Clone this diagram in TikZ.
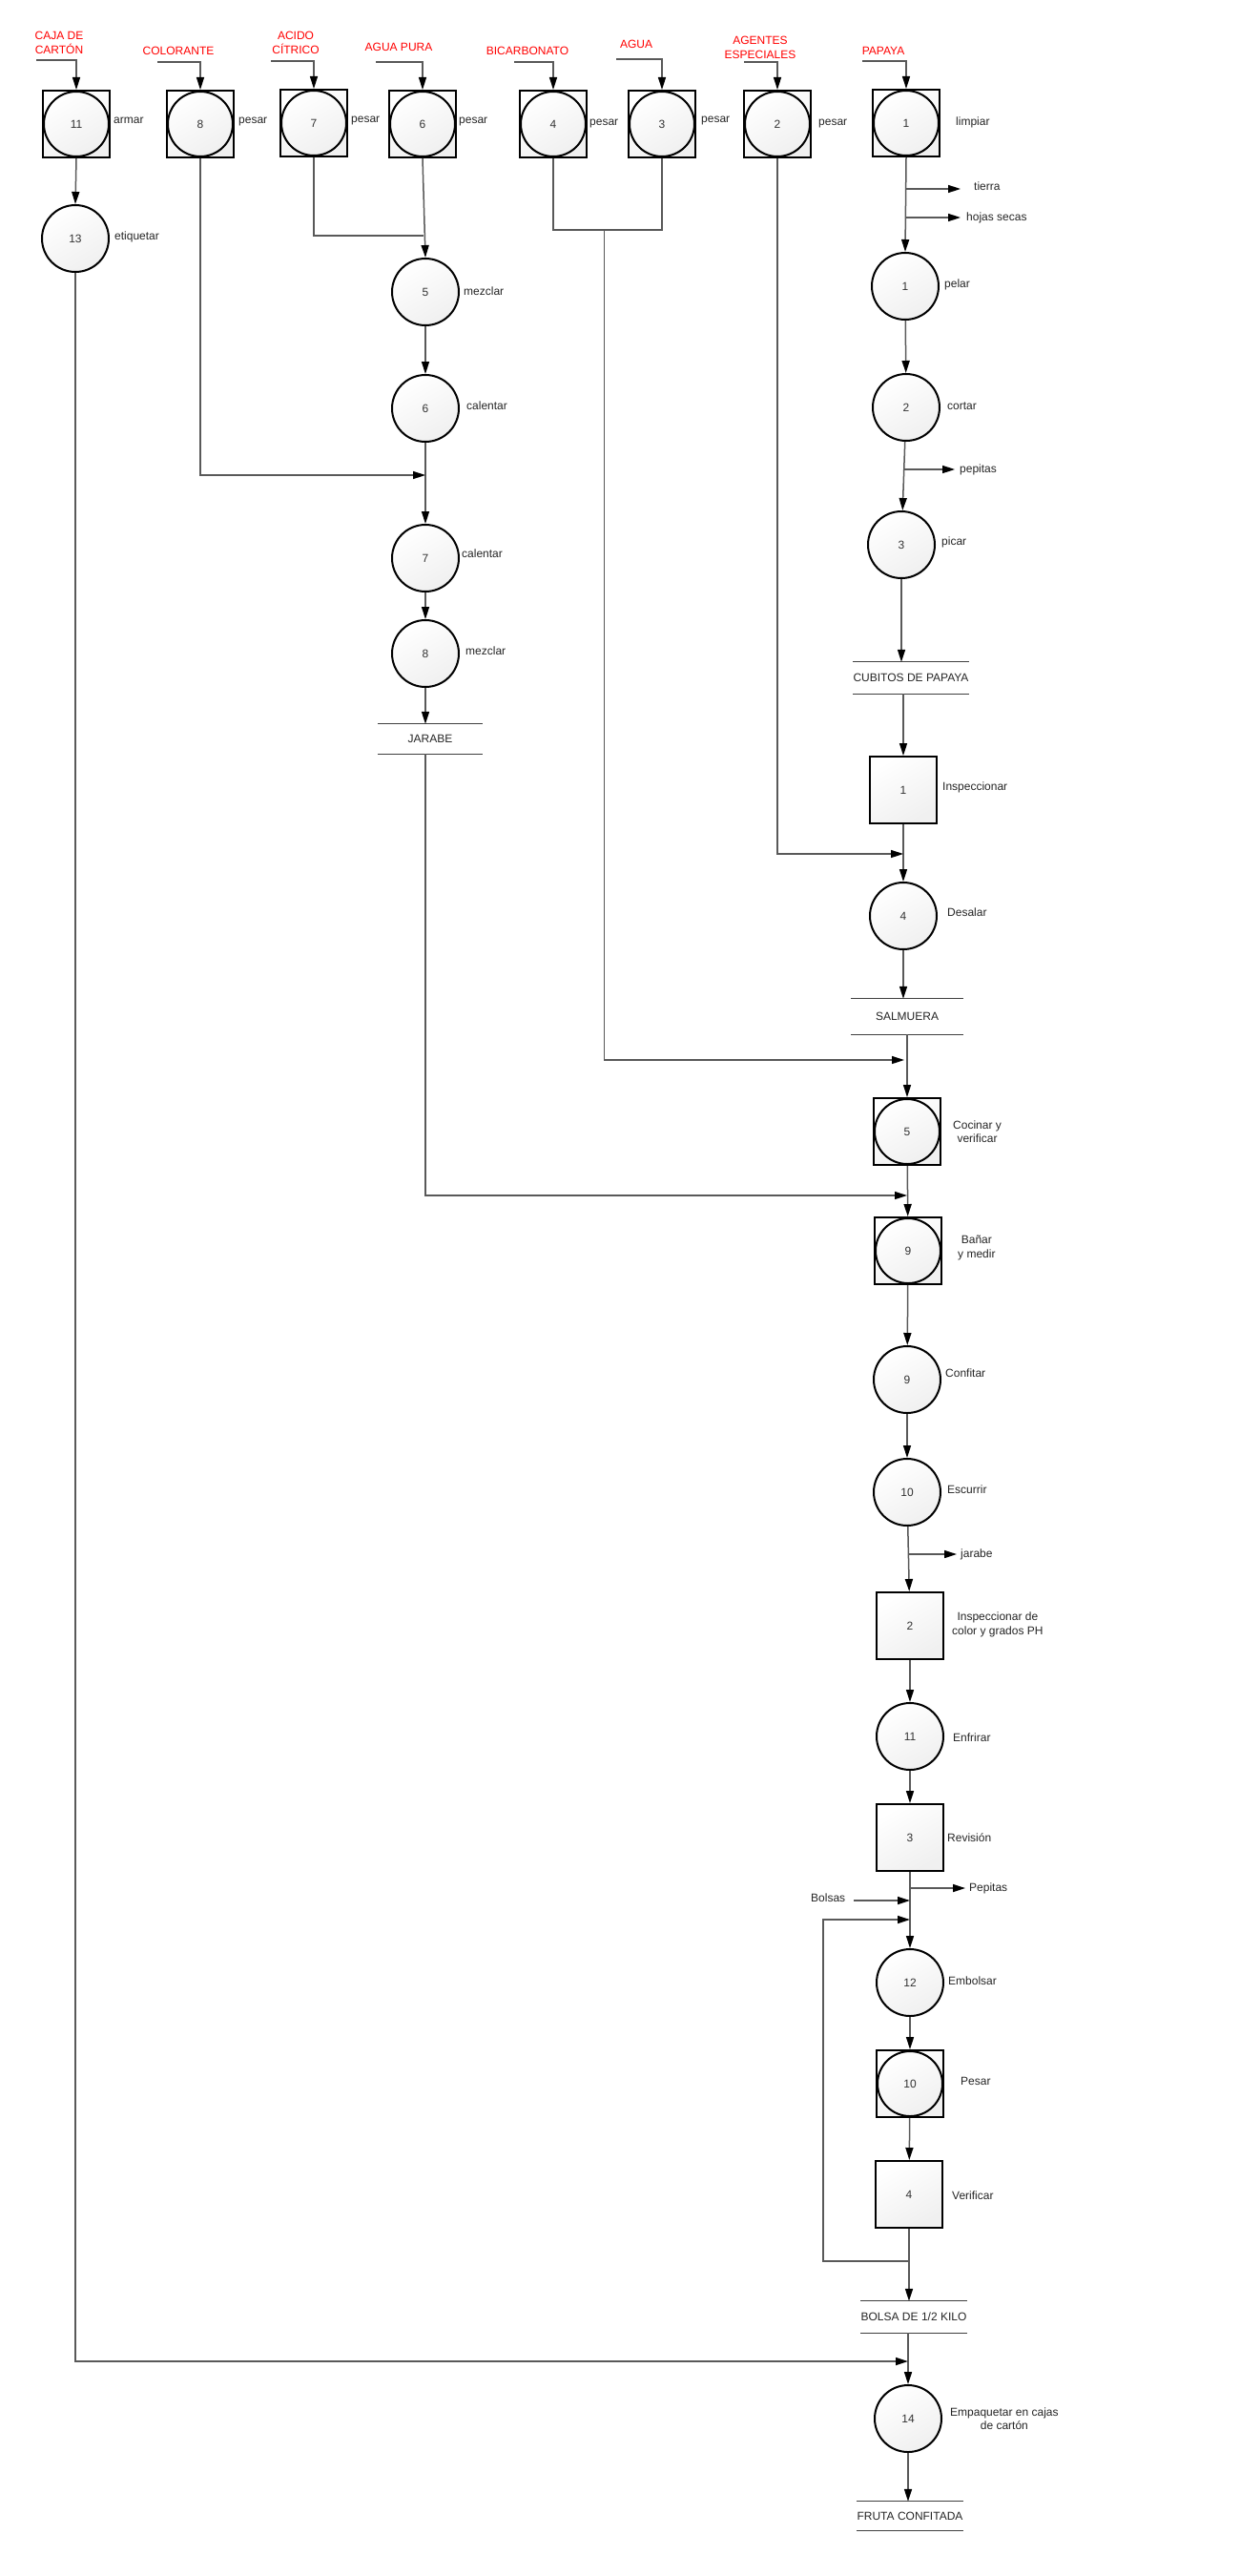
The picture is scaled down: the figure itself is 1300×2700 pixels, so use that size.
\documentclass[tikz,border=0pt]{standalone}
\usepackage{fontspec}
\setmainfont{Liberation Sans}
\usetikzlibrary{arrows.meta}
\begin{document}
\begin{tikzpicture}[x=1pt,y=-1pt,
  every node/.style={font=\fontsize{12}{14.5}\selectfont, text=black!85},
  shp/.style={draw=black, line width=2pt, top color=white, bottom color=black!6, shading angle=30, inner sep=0pt, text=black!80},
  proc/.style={shp, circle, minimum size=70pt},
  insp/.style={shp, rectangle, minimum size=70pt},
  combo/.style={shp, rectangle, minimum size=70pt, path picture={\draw[line width=2pt] (path picture bounding box.center) circle[radius=34pt];}},
  lbl/.style={anchor=west, inner sep=0pt},
  lblc/.style={anchor=west, inner sep=0pt, align=center},
  redlbl/.style={text=red, align=center, inner sep=0pt},
  storelbl/.style={inner sep=0pt, text=black!85},
  storeline/.style={draw=black!75, line width=1.2pt},
  conn/.style={draw=black!65, line width=1.5pt},
  flowarrow/.style={conn, -{Triangle[length=13pt,width=8pt,color=black]}},
]
\fill[white] (0,0) rectangle (1300,2700);
\useasboundingbox (0,0) rectangle (1300,2700);

% ---------- top row ----------
\node[combo] (b11) at (80,130) {11};
\node[combo] (b8) at (210,130) {8};
\node[combo] (b7) at (329,129) {7};
\node[combo] (b6) at (443,130) {6};
\node[combo] (b4) at (580,130) {4};
\node[combo] (b3) at (694,130) {3};
\node[combo] (b2) at (815,130) {2};
\node[combo] (b1) at (950,129) {1};

\node[lbl] (l11) at (119,126) {armar};
\node[lbl] (l8) at (250,128) {pesar};
\node[lbl] (l7) at (368,127) {pesar};
\node[lbl] (l6) at (481,128) {pesar};
\node[lbl] (l4) at (618,130) {pesar};
\node[lbl] (l3) at (735,127) {pesar};
\node[lbl] (l2) at (858,130) {pesar};
\node[lbl] (l1) at (1002,128) {limpiar};

\node[redlbl] (r11) at (62,45) {CAJA DE\\CARTÓN};
\node[redlbl] (r8) at (187,53) {COLORANTE};
\node[redlbl] (r7) at (310,45) {ACIDO\\CÍTRICO};
\node[redlbl] (r6) at (418,49) {AGUA PURA};
\node[redlbl] (r4) at (553,53) {BICARBONATO};
\node[redlbl] (r3) at (667,46) {AGUA};
\node[redlbl] (r2) at (797,50) {AGENTES\\ESPECIALES};
\node[redlbl] (r1) at (926,53) {PAPAYA};

\coordinate (i11) at (38,63);
\coordinate (i8) at (165,65);
\coordinate (i7) at (284,64);
\coordinate (i6) at (394,65);
\coordinate (i4) at (539,65);
\coordinate (i3) at (646,62);
\coordinate (i2) at (780,65);
\coordinate (i1) at (904,64);
\draw[flowarrow] (i11) -| (b11.north);
\draw[flowarrow] (i8) -| (b8.north);
\draw[flowarrow] (i7) -| (b7.north);
\draw[flowarrow] (i6) -| (b6.north);
\draw[flowarrow] (i4) -| (b4.north);
\draw[flowarrow] (i3) -| (b3.north);
\draw[flowarrow] (i2) -| (b2.north);
\draw[flowarrow] (i1) -| (b1.north);

% ---------- left / middle column ----------
\node[proc] (c13) at (79,250) {13};
\node[lbl] at (120,248) {etiquetar};
\node[proc] (c5) at (446,306) {5};
\node[lbl] at (486,305) {mezclar};
\node[proc] (c6) at (446,428) {6};
\node[lbl] at (489,425) {calentar};
\node[proc] (c7) at (446,585) {7};
\node[lbl] at (484,580) {calentar};
\node[proc] (c8) at (446,685) {8};
\node[lbl] at (488,682) {mezclar};
\node[storelbl, minimum width=110pt, minimum height=31pt] (jarabe) at (451,774.5) {JARABE};
\draw[storeline] (jarabe.north west) -- (jarabe.north east) (jarabe.south west) -- (jarabe.south east);

\draw[flowarrow] (b11.south) -- (c13.north);
\draw[flowarrow] (b6.south) -- (c5.north);
\draw[flowarrow] (c5) -- (c6);
\draw[flowarrow] (c6) -- (c7);
\draw[flowarrow] (c7) -- (c8);
\draw[flowarrow] (c8.south) -- (c8 |- jarabe.north);

\coordinate (ja) at (444,247);
\draw[conn] (b7.south) |- (ja);
\coordinate (jc) at (446,498);
\draw[flowarrow] (b8.south) |- (jc);

\coordinate (kb4) at (580,241);
\coordinate (kb3) at (694,241);
\coordinate (k1) at (633.6,241);
\draw[conn] (b4.south) -- (kb4) -- (kb3) -- (b3.south);

% ---------- right column ----------
\node[proc] (c1p) at (949,300) {1};
\node[lbl] at (990,298) {pelar};
\node[proc] (c2) at (950,427) {2};
\node[lbl] at (993,426) {cortar};
\node[proc] (c3) at (945,571) {3};
\node[lbl] at (987,568) {picar};
\node[storelbl, minimum width=117pt, minimum height=33pt] (cub) at (955,710.5) {CUBITOS DE PAPAYA};
\draw[storeline] (cub.north west) -- (cub.north east) (cub.south west) -- (cub.south east);
\node[insp] (insp1) at (947,828) {1};
\node[lbl] at (988,825) {Inspeccionar};
\node[proc] (c4) at (947,960) {4};
\node[lbl] at (993,956) {Desalar};
\node[storelbl, minimum width=117pt, minimum height=37pt] (salm) at (951,1065.5) {SALMUERA};
\draw[storeline] (salm.north west) -- (salm.north east) (salm.south west) -- (salm.south east);
\node[combo] (b5) at (951,1186) {5};
\node[lblc] at (999,1186) {Cocinar y\\verificar};
\node[combo] (b9) at (952,1311) {9};
\node[lblc] at (1004,1308) {Bañar\\y medir};
\node[proc] (c9) at (951,1446) {9};
\node[lbl] at (991,1439) {Confitar};
\node[proc] (c10) at (951,1564) {10};
\node[lbl] at (993,1561) {Escurrir};
\node[insp] (sq2) at (954,1704) {2};
\node[lblc] at (998,1703) {Inspeccionar de\\color y grados PH};
\node[proc] (c11) at (954,1820) {11};
\node[lbl] at (999,1821) {Enfrirar};
\node[insp] (sq3) at (954,1926) {3};
\node[lbl] at (993,1926) {Revisión};
\node[proc] (c12) at (954,2078) {12};
\node[lbl] at (994,2076) {Embolsar};
\node[combo] (b10) at (954,2184) {10};
\node[lbl] at (1007,2181) {Pesar};
\node[insp] (sq4) at (953,2300) {4};
\node[lbl] at (998,2301) {Verificar};
\node[storelbl, minimum width=106pt, minimum height=33pt] (bolsa) at (958,2428.5) {BOLSA DE 1/2 KILO};
\draw[storeline] (bolsa.north west) -- (bolsa.north east) (bolsa.south west) -- (bolsa.south east);
\node[proc] (c14) at (952,2535) {14};
\node[lblc] at (996,2535) {Empaquetar en cajas\\de cartón};
\node[storelbl, minimum width=112pt, minimum height=30pt] (fruta) at (954,2637) {FRUTA CONFITADA};
\draw[storeline] (fruta.north west) -- (fruta.north east) (fruta.south west) -- (fruta.south east);

% main line
\draw[flowarrow] (b1.south) -- (c1p.north);
\draw[flowarrow] (c1p) -- (c2);
\draw[flowarrow] (c2) -- (c3);
\draw[flowarrow] (c3.south) -- (c3 |- cub.north);
\draw[flowarrow] (insp1 |- cub.south) -- (insp1.north);
\draw[flowarrow] (insp1) -- (c4);
\draw[flowarrow] (c4.south) -- (c4 |- salm.north);
\draw[flowarrow] (b5 |- salm.south) -- (b5.north);
\draw[flowarrow] (b5) -- (b9);
\draw[flowarrow] (b9) -- (c9);
\draw[flowarrow] (c9) -- (c10);
\draw[flowarrow] (c10) -- (sq2);
\draw[flowarrow] (sq2) -- (c11);
\draw[flowarrow] (c11) -- (sq3);
\draw[flowarrow] (sq3) -- (c12);
\draw[flowarrow] (c12) -- (b10);
\draw[flowarrow] (b10) -- (sq4);
\draw[flowarrow] (sq4.south) -- (sq4 |- bolsa.north);
\draw[flowarrow] (c14 |- bolsa.south) -- (c14.north);
\draw[flowarrow] (c14.south) -- (c14 |- fruta.north);

% outflows
\coordinate (t0) at (950,198); \coordinate (t1) at (1007,198);
\draw[flowarrow] (t0) -- (t1);
\node[lbl] at (1021,195) {tierra};
\coordinate (h0) at (950,228); \coordinate (h1) at (1007,228);
\draw[flowarrow] (h0) -- (h1);
\node[lbl] at (1013,228) {hojas secas};
\coordinate (p0) at (947,492); \coordinate (p1) at (1001,492);
\draw[flowarrow] (p0) -- (p1);
\node[lbl] at (1006,492) {pepitas};
\coordinate (j0) at (952,1629); \coordinate (j1) at (1003,1629);
\draw[flowarrow] (j0) -- (j1);
\node[lbl] at (1007,1629) {jarabe};
\coordinate (q0) at (954,1979); \coordinate (q1) at (1012,1979);
\draw[flowarrow] (q0) -- (q1);
\node[lbl] at (1016,1979) {Pepitas};

% inflows to main line
\coordinate (k3) at (947,895);
\draw[flowarrow] (b2.south) |- (k3);
\coordinate (k2) at (948,1111);
\draw[flowarrow] (k1) |- (k2);
\coordinate (k4) at (951,1253);
\draw[flowarrow] (c8 |- jarabe.south) |- (k4);
\coordinate (k5) at (952,2475);
\draw[flowarrow] (c13.south) |- (k5);

\node[lbl] (bolsas) at (850,1989) {Bolsas};
\coordinate (bs0) at (895,1992); \coordinate (bs1) at (954,1992);
\draw[flowarrow] (bs0) -- (bs1);
\coordinate (lp0) at (953,2370); \coordinate (lp1) at (863,2370);
\coordinate (lp2) at (863,2012); \coordinate (lp3) at (954,2012);
\draw[flowarrow] (lp0) -- (lp1) -- (lp2) -- (lp3);
\end{tikzpicture}
\end{document}
